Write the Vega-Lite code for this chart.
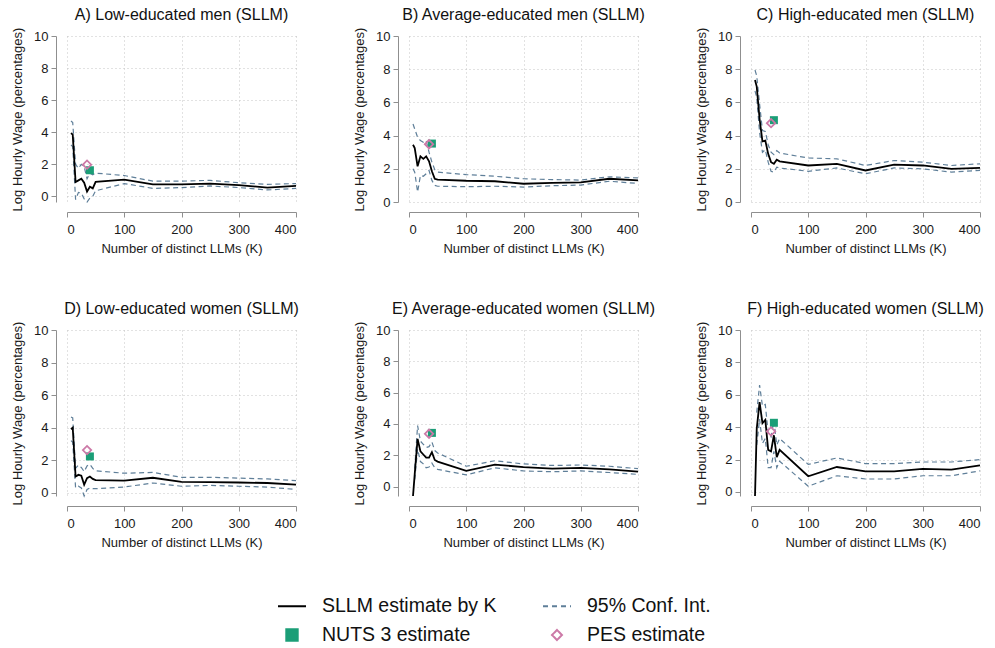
{
"$schema":"https://vega.github.io/schema/vega-lite/v6.json",
"padding":{"left":11,"top":7,"right":0,"bottom":0},
"data":{"values":[
{"panel":"A","K":7,"est":3.95,"lo":3.2,"hi":4.7},{"panel":"A","K":10,"est":3.85,"lo":3.1,"hi":4.6},{"panel":"A","K":15,"est":0.9,"lo":-0.2,"hi":2.0},{"panel":"A","K":20,"est":1.0,"lo":0.25,"hi":1.75},{"panel":"A","K":25,"est":1.1,"lo":0.2,"hi":2.0},{"panel":"A","K":30,"est":0.85,"lo":-0.15,"hi":1.85},{"panel":"A","K":35,"est":0.3,"lo":-0.35,"hi":1.1},{"panel":"A","K":40,"est":0.6,"lo":-0.1,"hi":1.45},{"panel":"A","K":45,"est":0.5,"lo":0.0,"hi":1.35},{"panel":"A","K":50,"est":0.9,"lo":0.35,"hi":1.45},{"panel":"A","K":100,"est":1.05,"lo":0.8,"hi":1.3},{"panel":"A","K":150,"est":0.75,"lo":0.5,"hi":0.95},{"panel":"A","K":200,"est":0.75,"lo":0.55,"hi":0.95},{"panel":"A","K":250,"est":0.8,"lo":0.65,"hi":1.0},{"panel":"A","K":300,"est":0.7,"lo":0.55,"hi":0.85},{"panel":"A","K":350,"est":0.55,"lo":0.4,"hi":0.75},{"panel":"A","K":400,"est":0.65,"lo":0.5,"hi":0.8},
{"panel":"B","K":7,"est":3.45,"lo":2.0,"hi":4.7},{"panel":"B","K":10,"est":3.25,"lo":1.8,"hi":4.4},{"panel":"B","K":15,"est":2.15,"lo":0.6,"hi":3.9},{"panel":"B","K":20,"est":2.75,"lo":1.6,"hi":3.7},{"panel":"B","K":25,"est":2.6,"lo":1.55,"hi":3.6},{"panel":"B","K":30,"est":2.75,"lo":1.7,"hi":3.7},{"panel":"B","K":35,"est":2.45,"lo":1.9,"hi":3.0},{"panel":"B","K":40,"est":1.85,"lo":1.3,"hi":2.4},{"panel":"B","K":45,"est":1.4,"lo":1.0,"hi":1.95},{"panel":"B","K":50,"est":1.35,"lo":0.95,"hi":1.8},{"panel":"B","K":100,"est":1.28,"lo":0.92,"hi":1.65},{"panel":"B","K":150,"est":1.25,"lo":0.95,"hi":1.55},{"panel":"B","K":200,"est":1.1,"lo":0.9,"hi":1.4},{"panel":"B","K":250,"est":1.15,"lo":0.98,"hi":1.35},{"panel":"B","K":300,"est":1.18,"lo":1.02,"hi":1.32},{"panel":"B","K":350,"est":1.4,"lo":1.25,"hi":1.52},{"panel":"B","K":400,"est":1.3,"lo":1.12,"hi":1.45},
{"panel":"C","K":7,"est":7.35,"lo":6.7,"hi":7.95},{"panel":"C","K":10,"est":6.95,"lo":6.3,"hi":7.6},{"panel":"C","K":15,"est":5.0,"lo":4.2,"hi":5.9},{"panel":"C","K":20,"est":3.65,"lo":3.0,"hi":4.3},{"panel":"C","K":25,"est":3.7,"lo":3.15,"hi":4.25},{"panel":"C","K":30,"est":2.9,"lo":2.4,"hi":3.45},{"panel":"C","K":35,"est":2.4,"lo":1.85,"hi":3.0},{"panel":"C","K":40,"est":2.3,"lo":1.8,"hi":2.85},{"panel":"C","K":45,"est":2.55,"lo":2.1,"hi":3.1},{"panel":"C","K":50,"est":2.45,"lo":2.05,"hi":2.95},{"panel":"C","K":100,"est":2.2,"lo":1.85,"hi":2.65},{"panel":"C","K":150,"est":2.3,"lo":2.05,"hi":2.6},{"panel":"C","K":200,"est":1.9,"lo":1.7,"hi":2.2},{"panel":"C","K":250,"est":2.25,"lo":2.05,"hi":2.5},{"panel":"C","K":300,"est":2.2,"lo":2.0,"hi":2.4},{"panel":"C","K":350,"est":2.0,"lo":1.8,"hi":2.2},{"panel":"C","K":400,"est":2.05,"lo":1.9,"hi":2.3},
{"panel":"D","K":7,"est":3.9,"lo":3.2,"hi":4.65},{"panel":"D","K":10,"est":4.0,"lo":3.1,"hi":4.6},{"panel":"D","K":15,"est":1.0,"lo":0.3,"hi":1.5},{"panel":"D","K":20,"est":1.1,"lo":0.4,"hi":1.7},{"panel":"D","K":25,"est":1.05,"lo":0.3,"hi":1.55},{"panel":"D","K":30,"est":0.5,"lo":-0.2,"hi":1.3},{"panel":"D","K":35,"est":0.9,"lo":0.2,"hi":1.65},{"panel":"D","K":40,"est":1.0,"lo":0.3,"hi":1.75},{"panel":"D","K":45,"est":0.85,"lo":0.25,"hi":1.5},{"panel":"D","K":50,"est":0.78,"lo":0.25,"hi":1.35},{"panel":"D","K":100,"est":0.75,"lo":0.35,"hi":1.2},{"panel":"D","K":150,"est":0.92,"lo":0.6,"hi":1.25},{"panel":"D","K":200,"est":0.67,"lo":0.4,"hi":0.95},{"panel":"D","K":250,"est":0.65,"lo":0.45,"hi":0.95},{"panel":"D","K":300,"est":0.63,"lo":0.4,"hi":0.9},{"panel":"D","K":350,"est":0.6,"lo":0.35,"hi":0.85},{"panel":"D","K":400,"est":0.5,"lo":0.2,"hi":0.75},
{"panel":"E","K":7,"est":-0.6,"lo":null,"hi":null},{"panel":"E","K":10,"est":0.8,"lo":0.45,"hi":1.15},{"panel":"E","K":15,"est":3.05,"lo":2.4,"hi":3.9},{"panel":"E","K":20,"est":2.25,"lo":1.6,"hi":2.9},{"panel":"E","K":25,"est":2.05,"lo":1.45,"hi":2.7},{"panel":"E","K":30,"est":1.85,"lo":1.2,"hi":2.5},{"panel":"E","K":35,"est":1.85,"lo":1.25,"hi":2.55},{"panel":"E","K":40,"est":2.2,"lo":1.5,"hi":2.85},{"panel":"E","K":45,"est":1.7,"lo":1.2,"hi":2.3},{"panel":"E","K":50,"est":1.6,"lo":1.1,"hi":2.15},{"panel":"E","K":100,"est":1.0,"lo":0.75,"hi":1.3},{"panel":"E","K":150,"est":1.4,"lo":1.2,"hi":1.65},{"panel":"E","K":200,"est":1.25,"lo":1.0,"hi":1.45},{"panel":"E","K":250,"est":1.15,"lo":0.95,"hi":1.35},{"panel":"E","K":300,"est":1.2,"lo":1.0,"hi":1.38},{"panel":"E","K":350,"est":1.1,"lo":0.9,"hi":1.3},{"panel":"E","K":400,"est":0.95,"lo":0.78,"hi":1.15},
{"panel":"F","K":7,"est":-0.25,"lo":null,"hi":null},{"panel":"F","K":10,"est":3.9,"lo":2.9,"hi":4.9},{"panel":"F","K":15,"est":5.55,"lo":4.5,"hi":6.6},{"panel":"F","K":20,"est":4.25,"lo":3.0,"hi":5.3},{"panel":"F","K":25,"est":4.45,"lo":3.3,"hi":5.4},{"panel":"F","K":30,"est":2.6,"lo":1.5,"hi":3.6},{"panel":"F","K":35,"est":2.5,"lo":1.5,"hi":3.4},{"panel":"F","K":40,"est":3.5,"lo":2.5,"hi":4.4},{"panel":"F","K":45,"est":2.15,"lo":1.5,"hi":2.9},{"panel":"F","K":50,"est":2.6,"lo":1.9,"hi":3.3},{"panel":"F","K":100,"est":0.97,"lo":0.35,"hi":1.7},{"panel":"F","K":150,"est":1.54,"lo":1.0,"hi":2.1},{"panel":"F","K":200,"est":1.27,"lo":0.8,"hi":1.75},{"panel":"F","K":250,"est":1.27,"lo":0.8,"hi":1.75},{"panel":"F","K":300,"est":1.42,"lo":1.0,"hi":1.85},{"panel":"F","K":350,"est":1.38,"lo":1.0,"hi":1.85},{"panel":"F","K":400,"est":1.64,"lo":1.3,"hi":2.0},
{"panel":"A","K":40,"nuts":1.63},{"panel":"A","K":35,"pes":1.98},
{"panel":"B","K":40,"nuts":3.52},{"panel":"B","K":35,"pes":3.48},
{"panel":"C","K":40,"nuts":4.93},{"panel":"C","K":35,"pes":4.75},
{"panel":"D","K":40,"nuts":2.23},{"panel":"D","K":35,"pes":2.62},
{"panel":"E","K":40,"nuts":3.43},{"panel":"E","K":35,"pes":3.37},
{"panel":"F","K":40,"nuts":4.27},{"panel":"F","K":35,"pes":3.74}
]},
"columns":3,
"bounds":"flush",
"spacing":{"row":128,"column":113},
"resolve":{"scale":{"color":"shared"},"legend":{"color":"shared"}},
"concat":[
{"title":{"text":"A) Low-educated men (SLLM)"},"width":229,"height":166,"transform":[{"filter":{"field":"panel","equal":"A"}}],
"encoding":{"x":{"field":"K","type":"quantitative","scale":{"domain":[0,400],"nice":false},"axis":{"values":[0,100,200,300,400],"offset":10,"labelOverlap":false,"labelFontSize":13,"titleFontSize":13,"grid":true},"title":"Number of distinct LLMs (K)"}},
"layer":[
{"transform":[{"filter":"isValid(datum.lo)"}],"mark":{"type":"line","strokeDash":[5,3.5],"strokeWidth":1.2},"encoding":{"y":{"field":"lo","type":"quantitative","scale":{"domainMax":10,"zero":true,"nice":false},"axis":{"values":[0,2,4,6,8,10],"offset":11,"labelOverlap":false,"labelFontSize":13,"titleFontSize":13,"grid":true},"title":"Log Hourly Wage (percentages)"},"color":{"datum":"95% Conf. Int.","type":"nominal","title":null,"scale":{"domain":["SLLM estimate by K","95% Conf. Int.","NUTS 3 estimate","PES estimate"],"range":["#000000","#5f7f99","#1b9e77","#cc79a7"]},"legend":{"orient":"none","legendX":210,"legendY":555,"title":null,"columns":2,"direction":"horizontal","labelFontSize":19.5,"labelColor":"#111111","labelFont":"Liberation Sans","labelLimit":400,"symbolType":"stroke","symbolSize":784,"symbolStrokeWidth":2,"labelOffset":15,"columnPadding":42,"rowPadding":4,"encode":{"symbols":{"update":{"shape":{"signal":"datum.value === 'NUTS 3 estimate' ? 'square' : datum.value === 'PES estimate' ? 'diamond' : 'stroke'"},"size":{"signal":"datum.value === 'NUTS 3 estimate' ? 130 : datum.value === 'PES estimate' ? 100 : 784"},"fill":{"signal":"datum.value === 'NUTS 3 estimate' ? '#1b9e77' : 'transparent'"},"fillOpacity":{"signal":"datum.value === 'NUTS 3 estimate' ? 1 : 0"},"stroke":{"signal":"datum.value === 'SLLM estimate by K' ? '#000000' : datum.value === '95% Conf. Int.' ? '#5f7f99' : datum.value === 'PES estimate' ? '#cc79a7' : 'transparent'"},"strokeDash":{"signal":"datum.value === '95% Conf. Int.' ? [5,4] : [1,0]"},"strokeWidth":{"value":2},"opacity":{"value":1}}}}}}}},
{"transform":[{"filter":"isValid(datum.hi)"}],"mark":{"type":"line","strokeDash":[5,3.5],"strokeWidth":1.2},"encoding":{"y":{"field":"hi","type":"quantitative","scale":{"domainMax":10,"zero":true,"nice":false},"axis":{"values":[0,2,4,6,8,10],"offset":11,"labelOverlap":false,"labelFontSize":13,"titleFontSize":13,"grid":true},"title":"Log Hourly Wage (percentages)"},"color":{"datum":"95% Conf. Int.","type":"nominal","title":null}}},
{"transform":[{"filter":"isValid(datum.est)"}],"mark":{"type":"line","strokeWidth":1.8},"encoding":{"y":{"field":"est","type":"quantitative","scale":{"domainMax":10,"zero":true,"nice":false},"axis":{"values":[0,2,4,6,8,10],"offset":11,"labelOverlap":false,"labelFontSize":13,"titleFontSize":13,"grid":true},"title":"Log Hourly Wage (percentages)"},"color":{"datum":"SLLM estimate by K","type":"nominal","title":null}}},
{"transform":[{"filter":"isValid(datum.nuts)"}],"mark":{"type":"point","shape":"square","filled":true,"size":64,"opacity":1},"encoding":{"y":{"field":"nuts","type":"quantitative","scale":{"domainMax":10,"zero":true,"nice":false},"axis":{"values":[0,2,4,6,8,10],"offset":11,"labelOverlap":false,"labelFontSize":13,"titleFontSize":13,"grid":true},"title":"Log Hourly Wage (percentages)"},"color":{"datum":"NUTS 3 estimate","type":"nominal","title":null}}},
{"transform":[{"filter":"isValid(datum.pes)"}],"mark":{"type":"point","shape":"diamond","filled":false,"size":70,"strokeWidth":1.8,"opacity":1},"encoding":{"y":{"field":"pes","type":"quantitative","scale":{"domainMax":10,"zero":true,"nice":false},"axis":{"values":[0,2,4,6,8,10],"offset":11,"labelOverlap":false,"labelFontSize":13,"titleFontSize":13,"grid":true},"title":"Log Hourly Wage (percentages)"},"color":{"datum":"PES estimate","type":"nominal","title":null}}}
]},
{"title":{"text":"B) Average-educated men (SLLM)"},"width":229,"height":166,"transform":[{"filter":{"field":"panel","equal":"B"}}],
"encoding":{"x":{"field":"K","type":"quantitative","scale":{"domain":[0,400],"nice":false},"axis":{"values":[0,100,200,300,400],"offset":10,"labelOverlap":false,"labelFontSize":13,"titleFontSize":13,"grid":true},"title":"Number of distinct LLMs (K)"}},
"layer":[
{"transform":[{"filter":"isValid(datum.lo)"}],"mark":{"type":"line","strokeDash":[5,3.5],"strokeWidth":1.2},"encoding":{"y":{"field":"lo","type":"quantitative","scale":{"domainMax":10,"zero":true,"nice":false},"axis":{"values":[0,2,4,6,8,10],"offset":11,"labelOverlap":false,"labelFontSize":13,"titleFontSize":13,"grid":true},"title":"Log Hourly Wage (percentages)"},"color":{"datum":"95% Conf. Int.","type":"nominal","title":null}}},
{"transform":[{"filter":"isValid(datum.hi)"}],"mark":{"type":"line","strokeDash":[5,3.5],"strokeWidth":1.2},"encoding":{"y":{"field":"hi","type":"quantitative","scale":{"domainMax":10,"zero":true,"nice":false},"axis":{"values":[0,2,4,6,8,10],"offset":11,"labelOverlap":false,"labelFontSize":13,"titleFontSize":13,"grid":true},"title":"Log Hourly Wage (percentages)"},"color":{"datum":"95% Conf. Int.","type":"nominal","title":null}}},
{"transform":[{"filter":"isValid(datum.est)"}],"mark":{"type":"line","strokeWidth":1.8},"encoding":{"y":{"field":"est","type":"quantitative","scale":{"domainMax":10,"zero":true,"nice":false},"axis":{"values":[0,2,4,6,8,10],"offset":11,"labelOverlap":false,"labelFontSize":13,"titleFontSize":13,"grid":true},"title":"Log Hourly Wage (percentages)"},"color":{"datum":"SLLM estimate by K","type":"nominal","title":null}}},
{"transform":[{"filter":"isValid(datum.nuts)"}],"mark":{"type":"point","shape":"square","filled":true,"size":64,"opacity":1},"encoding":{"y":{"field":"nuts","type":"quantitative","scale":{"domainMax":10,"zero":true,"nice":false},"axis":{"values":[0,2,4,6,8,10],"offset":11,"labelOverlap":false,"labelFontSize":13,"titleFontSize":13,"grid":true},"title":"Log Hourly Wage (percentages)"},"color":{"datum":"NUTS 3 estimate","type":"nominal","title":null}}},
{"transform":[{"filter":"isValid(datum.pes)"}],"mark":{"type":"point","shape":"diamond","filled":false,"size":70,"strokeWidth":1.8,"opacity":1},"encoding":{"y":{"field":"pes","type":"quantitative","scale":{"domainMax":10,"zero":true,"nice":false},"axis":{"values":[0,2,4,6,8,10],"offset":11,"labelOverlap":false,"labelFontSize":13,"titleFontSize":13,"grid":true},"title":"Log Hourly Wage (percentages)"},"color":{"datum":"PES estimate","type":"nominal","title":null}}}
]},
{"title":{"text":"C) High-educated men (SLLM)"},"width":229,"height":166,"transform":[{"filter":{"field":"panel","equal":"C"}}],
"encoding":{"x":{"field":"K","type":"quantitative","scale":{"domain":[0,400],"nice":false},"axis":{"values":[0,100,200,300,400],"offset":10,"labelOverlap":false,"labelFontSize":13,"titleFontSize":13,"grid":true},"title":"Number of distinct LLMs (K)"}},
"layer":[
{"transform":[{"filter":"isValid(datum.lo)"}],"mark":{"type":"line","strokeDash":[5,3.5],"strokeWidth":1.2},"encoding":{"y":{"field":"lo","type":"quantitative","scale":{"domainMax":10,"zero":true,"nice":false},"axis":{"values":[0,2,4,6,8,10],"offset":11,"labelOverlap":false,"labelFontSize":13,"titleFontSize":13,"grid":true},"title":"Log Hourly Wage (percentages)"},"color":{"datum":"95% Conf. Int.","type":"nominal","title":null}}},
{"transform":[{"filter":"isValid(datum.hi)"}],"mark":{"type":"line","strokeDash":[5,3.5],"strokeWidth":1.2},"encoding":{"y":{"field":"hi","type":"quantitative","scale":{"domainMax":10,"zero":true,"nice":false},"axis":{"values":[0,2,4,6,8,10],"offset":11,"labelOverlap":false,"labelFontSize":13,"titleFontSize":13,"grid":true},"title":"Log Hourly Wage (percentages)"},"color":{"datum":"95% Conf. Int.","type":"nominal","title":null}}},
{"transform":[{"filter":"isValid(datum.est)"}],"mark":{"type":"line","strokeWidth":1.8},"encoding":{"y":{"field":"est","type":"quantitative","scale":{"domainMax":10,"zero":true,"nice":false},"axis":{"values":[0,2,4,6,8,10],"offset":11,"labelOverlap":false,"labelFontSize":13,"titleFontSize":13,"grid":true},"title":"Log Hourly Wage (percentages)"},"color":{"datum":"SLLM estimate by K","type":"nominal","title":null}}},
{"transform":[{"filter":"isValid(datum.nuts)"}],"mark":{"type":"point","shape":"square","filled":true,"size":64,"opacity":1},"encoding":{"y":{"field":"nuts","type":"quantitative","scale":{"domainMax":10,"zero":true,"nice":false},"axis":{"values":[0,2,4,6,8,10],"offset":11,"labelOverlap":false,"labelFontSize":13,"titleFontSize":13,"grid":true},"title":"Log Hourly Wage (percentages)"},"color":{"datum":"NUTS 3 estimate","type":"nominal","title":null}}},
{"transform":[{"filter":"isValid(datum.pes)"}],"mark":{"type":"point","shape":"diamond","filled":false,"size":70,"strokeWidth":1.8,"opacity":1},"encoding":{"y":{"field":"pes","type":"quantitative","scale":{"domainMax":10,"zero":true,"nice":false},"axis":{"values":[0,2,4,6,8,10],"offset":11,"labelOverlap":false,"labelFontSize":13,"titleFontSize":13,"grid":true},"title":"Log Hourly Wage (percentages)"},"color":{"datum":"PES estimate","type":"nominal","title":null}}}
]},
{"title":{"text":"D) Low-educated women (SLLM)"},"width":229,"height":166,"transform":[{"filter":{"field":"panel","equal":"D"}}],
"encoding":{"x":{"field":"K","type":"quantitative","scale":{"domain":[0,400],"nice":false},"axis":{"values":[0,100,200,300,400],"offset":10,"labelOverlap":false,"labelFontSize":13,"titleFontSize":13,"grid":true},"title":"Number of distinct LLMs (K)"}},
"layer":[
{"transform":[{"filter":"isValid(datum.lo)"}],"mark":{"type":"line","strokeDash":[5,3.5],"strokeWidth":1.2},"encoding":{"y":{"field":"lo","type":"quantitative","scale":{"domainMax":10,"zero":true,"nice":false},"axis":{"values":[0,2,4,6,8,10],"offset":11,"labelOverlap":false,"labelFontSize":13,"titleFontSize":13,"grid":true},"title":"Log Hourly Wage (percentages)"},"color":{"datum":"95% Conf. Int.","type":"nominal","title":null}}},
{"transform":[{"filter":"isValid(datum.hi)"}],"mark":{"type":"line","strokeDash":[5,3.5],"strokeWidth":1.2},"encoding":{"y":{"field":"hi","type":"quantitative","scale":{"domainMax":10,"zero":true,"nice":false},"axis":{"values":[0,2,4,6,8,10],"offset":11,"labelOverlap":false,"labelFontSize":13,"titleFontSize":13,"grid":true},"title":"Log Hourly Wage (percentages)"},"color":{"datum":"95% Conf. Int.","type":"nominal","title":null}}},
{"transform":[{"filter":"isValid(datum.est)"}],"mark":{"type":"line","strokeWidth":1.8},"encoding":{"y":{"field":"est","type":"quantitative","scale":{"domainMax":10,"zero":true,"nice":false},"axis":{"values":[0,2,4,6,8,10],"offset":11,"labelOverlap":false,"labelFontSize":13,"titleFontSize":13,"grid":true},"title":"Log Hourly Wage (percentages)"},"color":{"datum":"SLLM estimate by K","type":"nominal","title":null}}},
{"transform":[{"filter":"isValid(datum.nuts)"}],"mark":{"type":"point","shape":"square","filled":true,"size":64,"opacity":1},"encoding":{"y":{"field":"nuts","type":"quantitative","scale":{"domainMax":10,"zero":true,"nice":false},"axis":{"values":[0,2,4,6,8,10],"offset":11,"labelOverlap":false,"labelFontSize":13,"titleFontSize":13,"grid":true},"title":"Log Hourly Wage (percentages)"},"color":{"datum":"NUTS 3 estimate","type":"nominal","title":null}}},
{"transform":[{"filter":"isValid(datum.pes)"}],"mark":{"type":"point","shape":"diamond","filled":false,"size":70,"strokeWidth":1.8,"opacity":1},"encoding":{"y":{"field":"pes","type":"quantitative","scale":{"domainMax":10,"zero":true,"nice":false},"axis":{"values":[0,2,4,6,8,10],"offset":11,"labelOverlap":false,"labelFontSize":13,"titleFontSize":13,"grid":true},"title":"Log Hourly Wage (percentages)"},"color":{"datum":"PES estimate","type":"nominal","title":null}}}
]},
{"title":{"text":"E) Average-educated women (SLLM)"},"width":229,"height":166,"transform":[{"filter":{"field":"panel","equal":"E"}}],
"encoding":{"x":{"field":"K","type":"quantitative","scale":{"domain":[0,400],"nice":false},"axis":{"values":[0,100,200,300,400],"offset":10,"labelOverlap":false,"labelFontSize":13,"titleFontSize":13,"grid":true},"title":"Number of distinct LLMs (K)"}},
"layer":[
{"transform":[{"filter":"isValid(datum.lo)"}],"mark":{"type":"line","strokeDash":[5,3.5],"strokeWidth":1.2},"encoding":{"y":{"field":"lo","type":"quantitative","scale":{"domainMax":10,"zero":true,"nice":false},"axis":{"values":[0,2,4,6,8,10],"offset":11,"labelOverlap":false,"labelFontSize":13,"titleFontSize":13,"grid":true},"title":"Log Hourly Wage (percentages)"},"color":{"datum":"95% Conf. Int.","type":"nominal","title":null}}},
{"transform":[{"filter":"isValid(datum.hi)"}],"mark":{"type":"line","strokeDash":[5,3.5],"strokeWidth":1.2},"encoding":{"y":{"field":"hi","type":"quantitative","scale":{"domainMax":10,"zero":true,"nice":false},"axis":{"values":[0,2,4,6,8,10],"offset":11,"labelOverlap":false,"labelFontSize":13,"titleFontSize":13,"grid":true},"title":"Log Hourly Wage (percentages)"},"color":{"datum":"95% Conf. Int.","type":"nominal","title":null}}},
{"transform":[{"filter":"isValid(datum.est)"}],"mark":{"type":"line","strokeWidth":1.8},"encoding":{"y":{"field":"est","type":"quantitative","scale":{"domainMax":10,"zero":true,"nice":false},"axis":{"values":[0,2,4,6,8,10],"offset":11,"labelOverlap":false,"labelFontSize":13,"titleFontSize":13,"grid":true},"title":"Log Hourly Wage (percentages)"},"color":{"datum":"SLLM estimate by K","type":"nominal","title":null}}},
{"transform":[{"filter":"isValid(datum.nuts)"}],"mark":{"type":"point","shape":"square","filled":true,"size":64,"opacity":1},"encoding":{"y":{"field":"nuts","type":"quantitative","scale":{"domainMax":10,"zero":true,"nice":false},"axis":{"values":[0,2,4,6,8,10],"offset":11,"labelOverlap":false,"labelFontSize":13,"titleFontSize":13,"grid":true},"title":"Log Hourly Wage (percentages)"},"color":{"datum":"NUTS 3 estimate","type":"nominal","title":null}}},
{"transform":[{"filter":"isValid(datum.pes)"}],"mark":{"type":"point","shape":"diamond","filled":false,"size":70,"strokeWidth":1.8,"opacity":1},"encoding":{"y":{"field":"pes","type":"quantitative","scale":{"domainMax":10,"zero":true,"nice":false},"axis":{"values":[0,2,4,6,8,10],"offset":11,"labelOverlap":false,"labelFontSize":13,"titleFontSize":13,"grid":true},"title":"Log Hourly Wage (percentages)"},"color":{"datum":"PES estimate","type":"nominal","title":null}}}
]},
{"title":{"text":"F) High-educated women (SLLM)"},"width":229,"height":166,"transform":[{"filter":{"field":"panel","equal":"F"}}],
"encoding":{"x":{"field":"K","type":"quantitative","scale":{"domain":[0,400],"nice":false},"axis":{"values":[0,100,200,300,400],"offset":10,"labelOverlap":false,"labelFontSize":13,"titleFontSize":13,"grid":true},"title":"Number of distinct LLMs (K)"}},
"layer":[
{"transform":[{"filter":"isValid(datum.lo)"}],"mark":{"type":"line","strokeDash":[5,3.5],"strokeWidth":1.2},"encoding":{"y":{"field":"lo","type":"quantitative","scale":{"domainMax":10,"zero":true,"nice":false},"axis":{"values":[0,2,4,6,8,10],"offset":11,"labelOverlap":false,"labelFontSize":13,"titleFontSize":13,"grid":true},"title":"Log Hourly Wage (percentages)"},"color":{"datum":"95% Conf. Int.","type":"nominal","title":null}}},
{"transform":[{"filter":"isValid(datum.hi)"}],"mark":{"type":"line","strokeDash":[5,3.5],"strokeWidth":1.2},"encoding":{"y":{"field":"hi","type":"quantitative","scale":{"domainMax":10,"zero":true,"nice":false},"axis":{"values":[0,2,4,6,8,10],"offset":11,"labelOverlap":false,"labelFontSize":13,"titleFontSize":13,"grid":true},"title":"Log Hourly Wage (percentages)"},"color":{"datum":"95% Conf. Int.","type":"nominal","title":null}}},
{"transform":[{"filter":"isValid(datum.est)"}],"mark":{"type":"line","strokeWidth":1.8},"encoding":{"y":{"field":"est","type":"quantitative","scale":{"domainMax":10,"zero":true,"nice":false},"axis":{"values":[0,2,4,6,8,10],"offset":11,"labelOverlap":false,"labelFontSize":13,"titleFontSize":13,"grid":true},"title":"Log Hourly Wage (percentages)"},"color":{"datum":"SLLM estimate by K","type":"nominal","title":null}}},
{"transform":[{"filter":"isValid(datum.nuts)"}],"mark":{"type":"point","shape":"square","filled":true,"size":64,"opacity":1},"encoding":{"y":{"field":"nuts","type":"quantitative","scale":{"domainMax":10,"zero":true,"nice":false},"axis":{"values":[0,2,4,6,8,10],"offset":11,"labelOverlap":false,"labelFontSize":13,"titleFontSize":13,"grid":true},"title":"Log Hourly Wage (percentages)"},"color":{"datum":"NUTS 3 estimate","type":"nominal","title":null}}},
{"transform":[{"filter":"isValid(datum.pes)"}],"mark":{"type":"point","shape":"diamond","filled":false,"size":70,"strokeWidth":1.8,"opacity":1},"encoding":{"y":{"field":"pes","type":"quantitative","scale":{"domainMax":10,"zero":true,"nice":false},"axis":{"values":[0,2,4,6,8,10],"offset":11,"labelOverlap":false,"labelFontSize":13,"titleFontSize":13,"grid":true},"title":"Log Hourly Wage (percentages)"},"color":{"datum":"PES estimate","type":"nominal","title":null}}}
]}
],
"config":{
"font":"Liberation Sans",
"view":{"stroke":null},
"title":{"fontSize":16,"fontWeight":"normal","font":"Liberation Sans","color":"#111111","anchor":"middle","frame":"group","offset":4,"baseline":"alphabetic"},
"axis":{"labelFontSize":13,"titleFontSize":13,"titleFontWeight":"normal","labelFont":"Liberation Sans","titleFont":"Liberation Sans","labelColor":"#1a1a1a","titleColor":"#1a1a1a","domainColor":"#8f8f8f","tickColor":"#8f8f8f","tickSize":5,"grid":true,"gridDash":[1,3],"gridColor":"#c4c4c4","labelPadding":3,"titlePadding":6,"labelOverlap":false},
"axisX":{"labelPadding":6},
"axisY":{"titlePadding":9},
"legend":{"labelLimit":400,"labelFontSize":19.5},
"line":{"strokeCap":"butt"}
}
}
